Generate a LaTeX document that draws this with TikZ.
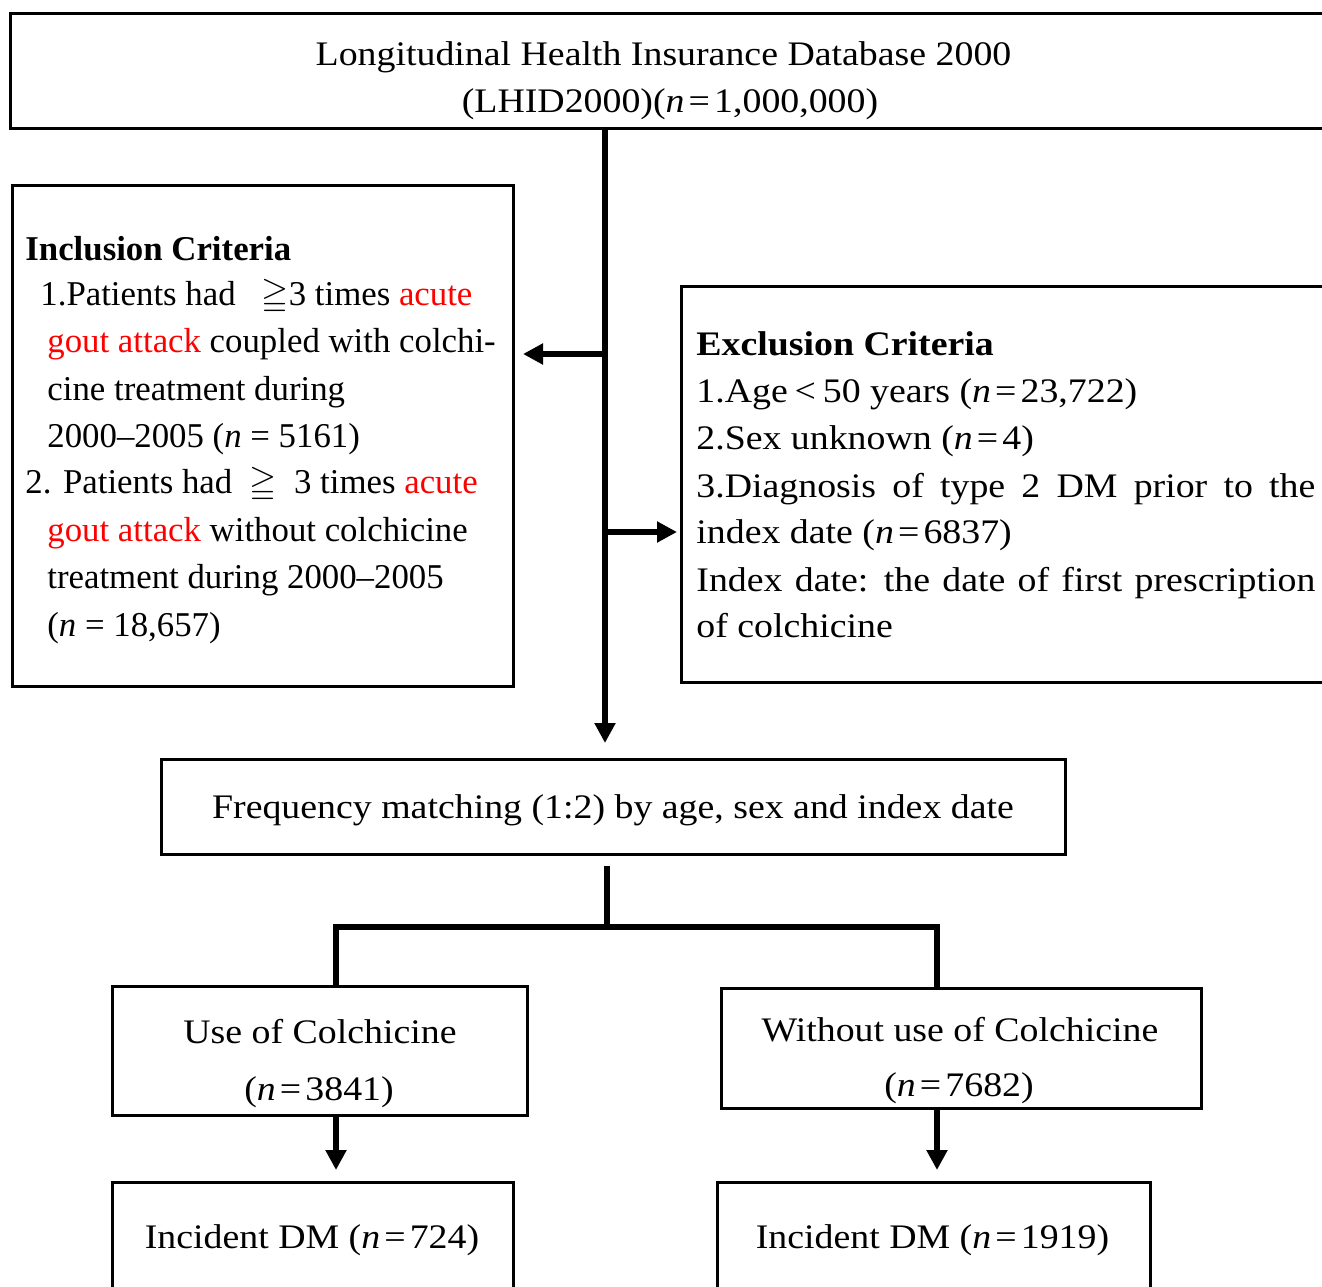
\documentclass[tikz,border=0pt]{standalone}
\usepackage{amssymb}
\usepackage{fontspec}
\setmainfont{Liberation Serif}[FakeStretch=1.1]
\newfontfamily\tnr{Liberation Serif}
\usetikzlibrary{arrows.meta}
\tikzset{
  box/.style={draw, line width=1.5pt, inner sep=0pt, outer sep=0pt},
  conn/.style={line width=3.4pt, line join=miter},
  arr/.style={conn, -{Triangle[length=10pt,width=10pt]}},
  pal/.style={inner sep=0pt, font=\fontsize{17.2}{20}\selectfont},
  tim/.style={inner sep=0pt, anchor=base west, font=\tnr\fontsize{17.4}{20}\selectfont},
  exl/.style={pal, anchor=base west},
}
\newcommand{\nn}{\textit{n}}
\newcommand{\eq}{\hspace{0.12em}=\hspace{0.12em}}
\newcommand{\rd}[1]{\textcolor{red}{#1}}
\begin{document}
\begin{tikzpicture}[x=0.5pt,y=-0.5pt]
\useasboundingbox (0,0) rectangle (1322,1286);
\clip (0,0) rectangle (1322,1286);
\fill[white] (0,0) rectangle (1322,1286);
% boxes
\node[box, minimum width=668pt, minimum height=57.5pt] (top) at (678,70.5) {};
\node[box, minimum width=250.5pt, minimum height=250.5pt] (inc) at (262.5,435.5) {};
\node[box, minimum width=332pt, minimum height=198pt] (exc) at (1013,484) {};
\node[box, minimum width=452pt, minimum height=47.5pt] (freq) at (613,806.5) {};
\node[box, minimum width=207.5pt, minimum height=64.5pt] (use) at (319.5,1050.5) {};
\node[box, minimum width=240pt, minimum height=60pt] (wo) at (961,1048) {};
\node[box, minimum width=200.5pt, minimum height=64pt] (dm1) at (312.5,1246) {};
\node[box, minimum width=216.5pt, minimum height=64pt] (dm2) at (933.5,1246) {};
% top text
\node[pal, anchor=base] (t1) at (663.5,65) {Longitudinal Health Insurance Database 2000};
\node[pal, anchor=base] (t2) at (670,112) {(LHID2000)(\nn\eq 1,000,000)};
% inclusion text
\node[tim] (i0) at (25,260) {\bfseries Inclusion Criteria};
\node[tim] (i1) at (40,305) {1.Patients had \ \ $\geqq$3 times \rd{acute}};
\node[tim] (i2) at (47,352) {\rd{gout attack} coupled with colchi-};
\node[tim] (i3) at (47,400) {cine treatment during};
\node[tim] (i4) at (47,447) {2000–2005 (\nn{} = 5161)};
\node[tim] (i5) at (25,493) {2. Patients had \ $\geqq$ \ 3 times \rd{acute}};
\node[tim] (i6) at (47,541) {\rd{gout attack} without colchicine};
\node[tim] (i7) at (47,588) {treatment during 2000–2005};
\node[tim] (i8) at (47,636) {(\nn{} = 18,657)};
% exclusion text
\node[exl] (e0) at (696,355) {\bfseries Exclusion Criteria};
\node[exl] (e1) at (696,402) {1.Age\hspace{0.2em}<\hspace{0.2em}50 years (\nn\eq 23,722)};
\node[exl] (e2) at (696,449) {2.Sex unknown (\nn\eq 4)};
\node[exl] (e3) at (696,497) {\hbox to 309.5pt{3.Diagnosis\hfil{} of\hfil{} type\hfil{} 2\hfil{} DM\hfil{} prior\hfil{} to\hfil{} the}};
\node[exl] (e4) at (696,543) {index date (\nn\eq 6837)};
\node[exl] (e5) at (696,591) {\hbox to 309.5pt{Index\hfil{} date:\hfil{} the\hfil{} date\hfil{} of\hfil{} first\hfil{} prescription}};
\node[exl] (e6) at (696,637) {of colchicine};
% frequency
\node[pal, anchor=base] (f1) at (613,818) {Frequency matching (1:2) by age, sex and index date};
% groups
\node[pal, anchor=base] (u1) at (320,1043) {Use of Colchicine};
\node[pal, anchor=base] (u2) at (319,1100) {(\nn\eq 3841)};
\node[pal, anchor=base] (w1) at (960,1041) {Without use of Colchicine};
\node[pal, anchor=base] (w2) at (959,1096) {(\nn\eq 7682)};
\node[pal, anchor=base] (d1) at (312,1248) {Incident DM (\nn\eq 724)};
\node[pal, anchor=base] (d2) at (932.5,1248) {Incident DM (\nn\eq 1919)};
% connectors
\coordinate (mtip) at (605,743);
\coordinate (jL) at (605,354);
\coordinate (jR) at (605,532);
\draw[arr] (top.south -| mtip) -- (mtip);
\draw[arr, shorten >=5pt] (jL) -- (jL -| inc.east);
\draw[arr, shorten >=2pt] (jR) -- (jR -| exc.west);
\coordinate (sM) at (607,927);
\coordinate (sL) at (336,927);
\coordinate (sR) at (937,927);
\draw[conn, shorten <=6pt] (freq.south -| sM) -- (sM);
\draw[conn] (sL |- use.north) -- (sL) -- (sR) -- (sR |- wo.north);
\draw[arr, shorten >=6pt] (use.south -| sL) -- (dm1.north -| sL);
\draw[arr, shorten >=6pt] (wo.south -| sR) -- (dm2.north -| sR);
\end{tikzpicture}
\end{document}
